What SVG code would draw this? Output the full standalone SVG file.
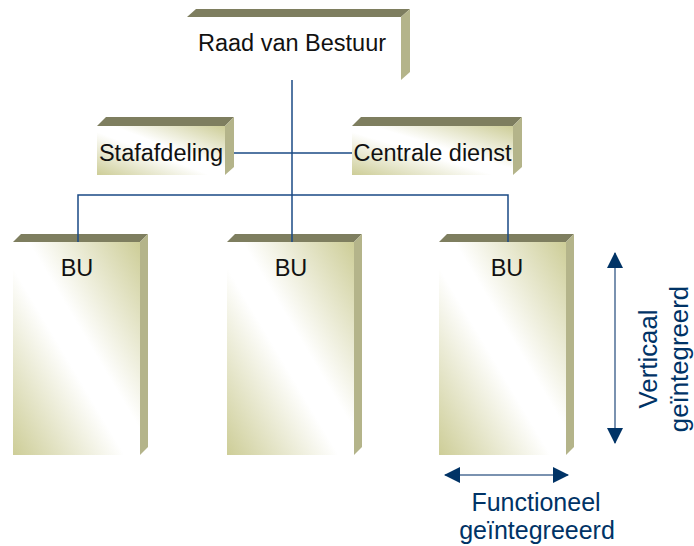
<svg xmlns="http://www.w3.org/2000/svg" width="694" height="546" viewBox="0 0 694 546">
  <defs>
    <linearGradient id="faceGrad" x1="1" y1="0" x2="0" y2="1">
      <stop offset="0" stop-color="#cdcd97"/>
      <stop offset="0.44" stop-color="#ffffff"/>
      <stop offset="0.56" stop-color="#ffffff"/>
      <stop offset="1" stop-color="#cdcd97"/>
    </linearGradient>
    <marker id="arrowHead" viewBox="0 0 16 16" refX="15" refY="8" markerWidth="16" markerHeight="16" markerUnits="userSpaceOnUse" orient="auto-start-reverse">
      <path d="M0,0 L16,8 L0,16 Z" fill="#003366"/>
    </marker>
  </defs>
  <style>
    .top { fill: #7e7e5f; }
    .side { fill: #b4b48a; }
    .front { fill: url(#faceGrad); }
    .plain { fill: #ffffff; }
    .label { font-family: "Liberation Sans", Arial, sans-serif; font-size: 23.5px; fill: #111111; text-anchor: middle; }
    .axis { font-family: "Liberation Sans", Arial, sans-serif; font-size: 25.8px; fill: #003366; text-anchor: middle; }
    .axis-tight { font-size: 25px; }
    .link { stroke: #1a4a85; stroke-width: 1.5; fill: none; }
    .dim { stroke: #7a92b0; stroke-width: 2; fill: none; marker-start: url(#arrowHead); marker-end: url(#arrowHead); }
  </style>

  <!-- connectors -->
  <g id="connectors">
    <line class="link" x1="292" y1="80" x2="292" y2="238"/>
    <line class="link" x1="227" y1="153" x2="352" y2="153"/>
    <polyline class="link" points="78,240 78,195 508,195 508,240"/>
  </g>

  <!-- board -->
  <g id="raad">
    <polygon class="top" points="187,17 196,9 410,9 401,17"/>
    <polygon class="side" points="401,17 410,9 410,72 401,80"/>
    <rect class="plain" x="187" y="17" width="214" height="63"/>
    <text class="label" x="292" y="51">Raad van Bestuur</text>
  </g>

  <!-- staff department -->
  <g id="stafafdeling">
    <polygon class="top" points="97,126 106,117 234,117 225,126"/>
    <polygon class="side" points="225,126 234,117 234,167 225,175"/>
    <rect class="front" x="97" y="126" width="128" height="49"/>
    <text class="label" x="161" y="161">Stafafdeling</text>
  </g>

  <!-- central service -->
  <g id="centrale-dienst">
    <polygon class="top" points="352,126 361,117 522,117 513,126"/>
    <polygon class="side" points="513,126 522,117 522,167 513,175"/>
    <rect class="front" x="352" y="126" width="161" height="49"/>
    <text class="label" x="432.5" y="161">Centrale dienst</text>
  </g>

  <!-- business units -->
  <g id="bu1">
    <polygon class="top" points="13,242 21,234 148,234 140,242"/>
    <polygon class="side" points="140,242 148,234 148,447 140,455"/>
    <rect class="front" x="13" y="242" width="127" height="213"/>
    <line class="link" x1="78" y1="234" x2="78" y2="242"/>
    <text class="label" x="77" y="276">BU</text>
  </g>
  <g id="bu2">
    <polygon class="top" points="227,242 235,234 362,234 354,242"/>
    <polygon class="side" points="354,242 362,234 362,447 354,455"/>
    <rect class="front" x="227" y="242" width="127" height="213"/>
    <line class="link" x1="292" y1="234" x2="292" y2="242"/>
    <text class="label" x="291" y="276">BU</text>
  </g>
  <g id="bu3">
    <polygon class="top" points="439,242 447,234 574,234 566,242"/>
    <polygon class="side" points="566,242 574,234 574,447 566,455"/>
    <rect class="front" x="439" y="242" width="127" height="213"/>
    <line class="link" x1="508" y1="234" x2="508" y2="242"/>
    <text class="label" x="507" y="276">BU</text>
  </g>

  <!-- integration axes -->
  <g id="verticaal">
    <line class="dim" x1="615" y1="253" x2="615" y2="443"/>
    <text class="axis" transform="translate(657,359) rotate(-90)">Verticaal</text>
    <text class="axis" transform="translate(688,359) rotate(-90)">geïntegreerd</text>
  </g>
  <g id="functioneel">
    <line class="dim" x1="445" y1="475" x2="568" y2="475"/>
    <text class="axis axis-tight" x="536" y="511">Functioneel</text>
    <text class="axis axis-tight" x="537" y="539">geïntegreeerd</text>
  </g>
</svg>
